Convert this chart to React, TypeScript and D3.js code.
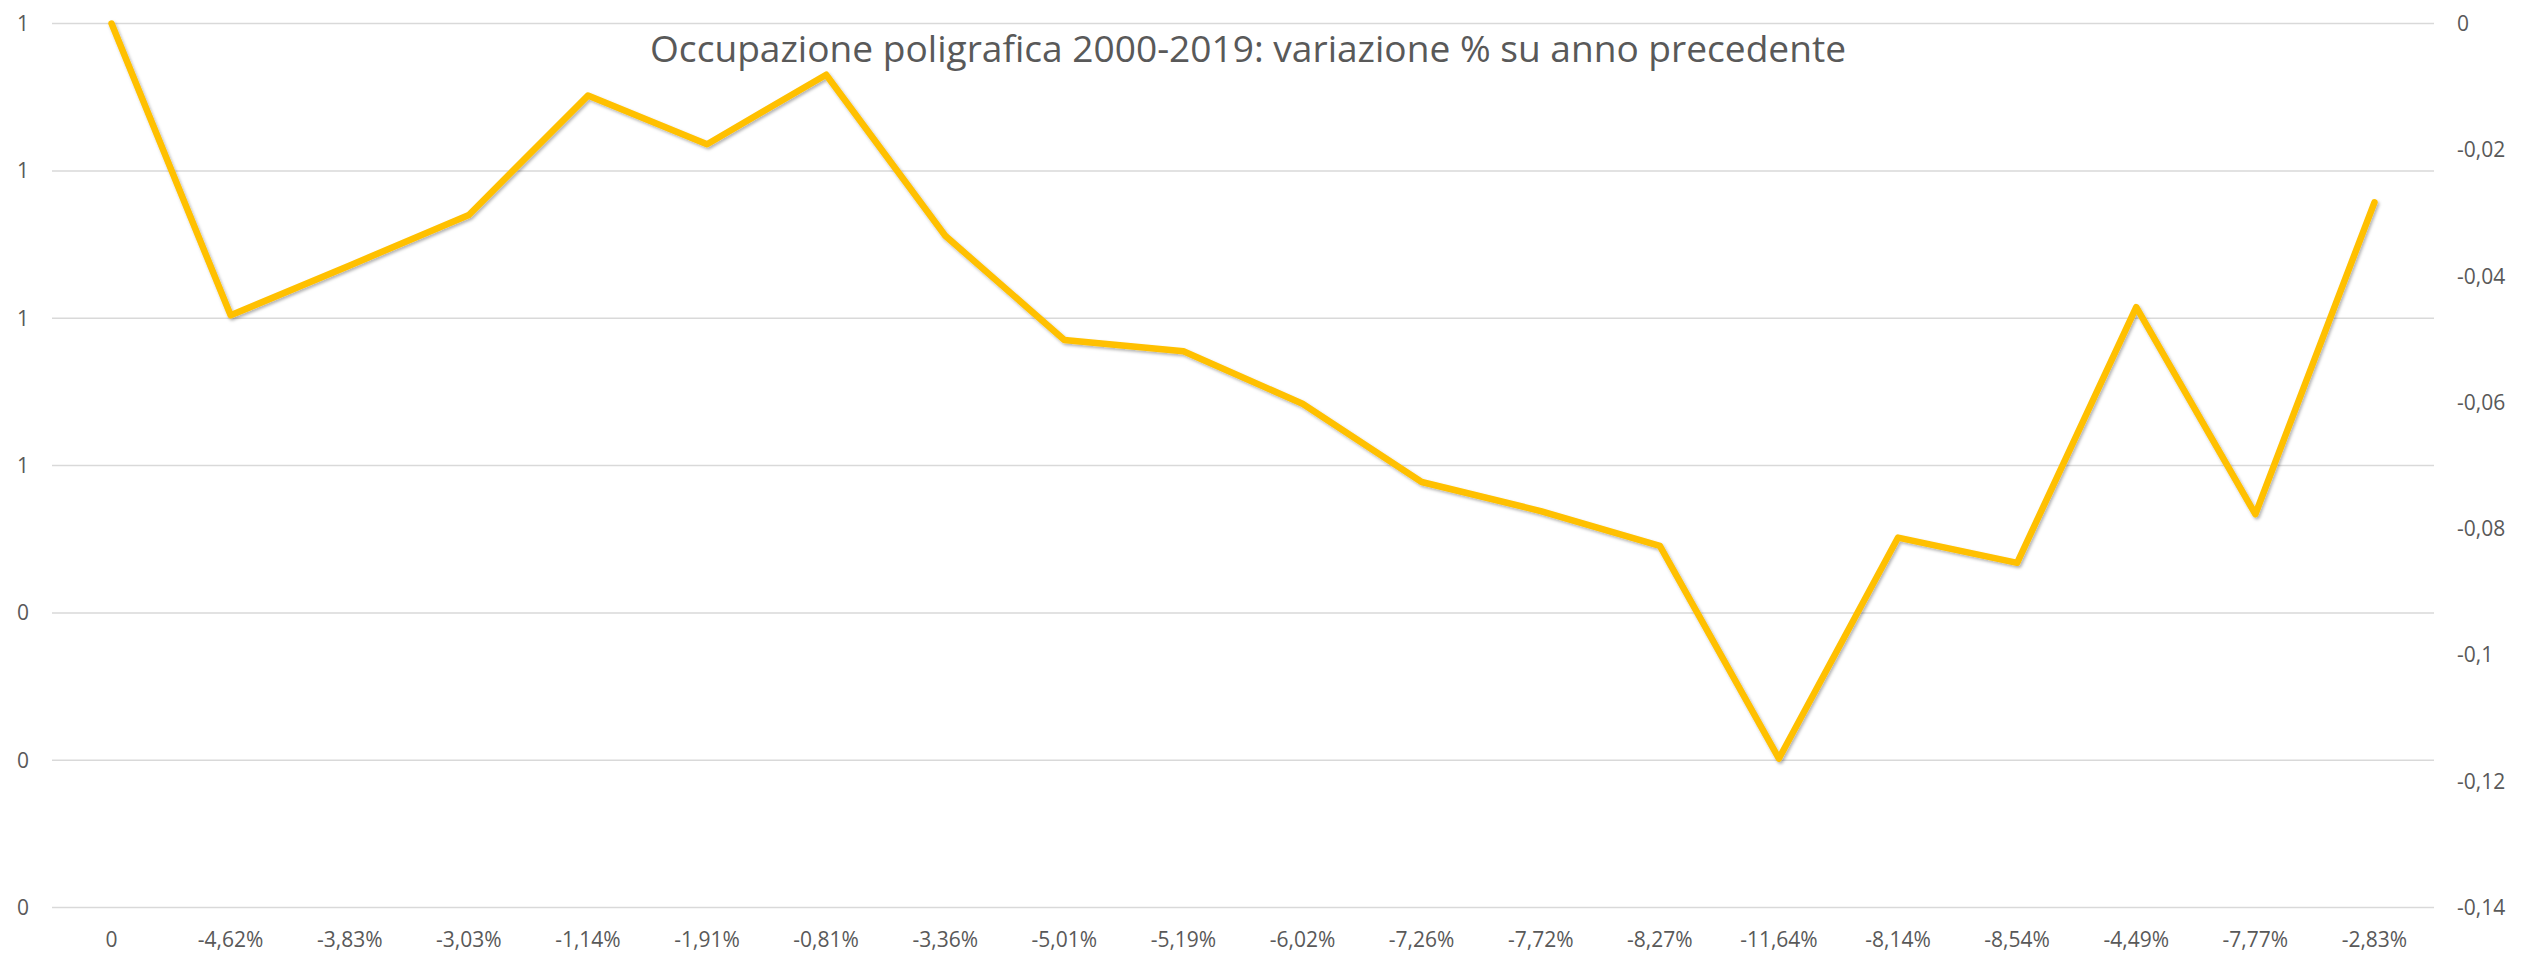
import React from "react";
import * as d3 from "d3";

const TITLE = "Occupazione poligrafica 2000-2019: variazione % su anno precedente";
const categories = ["0", "-4,62%", "-3,83%", "-3,03%", "-1,14%", "-1,91%", "-0,81%", "-3,36%", "-5,01%", "-5,19%", "-6,02%", "-7,26%", "-7,72%", "-8,27%", "-11,64%", "-8,14%", "-8,54%", "-4,49%", "-7,77%", "-2,83%"];
const values = [0, -0.0462, -0.0383, -0.0303, -0.0114, -0.0191, -0.0081, -0.0336, -0.0501, -0.0519, -0.0602, -0.0726, -0.0772, -0.0827, -0.1164, -0.0814, -0.0854, -0.0449, -0.0777, -0.0283];
const leftTicks = [0, 0.2, 0.4, 0.6, 0.8, 1.0, 1.2];
const rightTicks = [0, -0.02, -0.04, -0.06, -0.08, -0.1, -0.12, -0.14];

const W = 2521;
const H = 959;
const FONT = "'Open Sans', 'Noto Sans', sans-serif";
const TXT = "#595959";

export default function App() {
  const top = 23.6;
  const bottom = 907.6;
  const left = 52;
  const right = 2434;
  const x = d3.scaleBand<string>().domain(categories).range([left, right]);
  const yL = d3.scaleLinear().domain([0, 1.2]).range([bottom, top]);
  const yR = d3.scaleLinear().domain([-0.14, 0]).range([bottom, top]);
  const locale = d3.formatLocale({ decimal: ",", thousands: ".", grouping: [3], currency: ["", ""], minus: "-" });
  const fmtR = locale.format("~g");
  const fmtL = d3.format(".0f");
  const line = d3
    .line<number>()
    .x((_, i) => (x(categories[i]) as number) + x.bandwidth() / 2)
    .y((d) => yR(d));

  return (
    <svg width={W} height={H} style={{ position: "absolute", left: 0, top: 0, display: "block", background: "#fff" }}>
      <defs>
        <filter id="sh" x="-5%" y="-5%" width="110%" height="110%">
          <feDropShadow dx="1.5" dy="2" stdDeviation="1.5" floodColor="#000" floodOpacity="0.3" />
        </filter>
      </defs>
      <rect x={0} y={0} width={W} height={H} fill="#fff" />
      {leftTicks.map((t) => (
        <line key={"g" + t} x1={left} x2={right} y1={yL(t)} y2={yL(t)} stroke="#D9D9D9" strokeWidth={1.5} />
      ))}
      {leftTicks.map((t) => (
        <text key={"l" + t} x={29} y={yL(t)} dy="0.35em" textAnchor="end" fontFamily={FONT} fontSize={21} fill={TXT}>
          {fmtL(t)}
        </text>
      ))}
      {rightTicks.map((t) => (
        <text key={"r" + t} x={2457} y={yR(t)} dy="0.35em" textAnchor="start" fontFamily={FONT} fontSize={21} fill={TXT}>
          {fmtR(t)}
        </text>
      ))}
      {categories.map((c) => (
        <text key={"c" + c} x={(x(c) as number) + x.bandwidth() / 2} y={946.5} textAnchor="middle" fontFamily={FONT} fontSize={21} fill={TXT}>
          {c}
        </text>
      ))}
      <text x={1248} y={62} textAnchor="middle" fontFamily={FONT} fontSize={37} fill={TXT} textLength={1196} lengthAdjust="spacingAndGlyphs">
        {TITLE}
      </text>
      <path d={line(values) || ""} fill="none" stroke="#FFC000" strokeWidth={6.5} strokeLinejoin="round" strokeLinecap="round" filter="url(#sh)" />
    </svg>
  );
}
